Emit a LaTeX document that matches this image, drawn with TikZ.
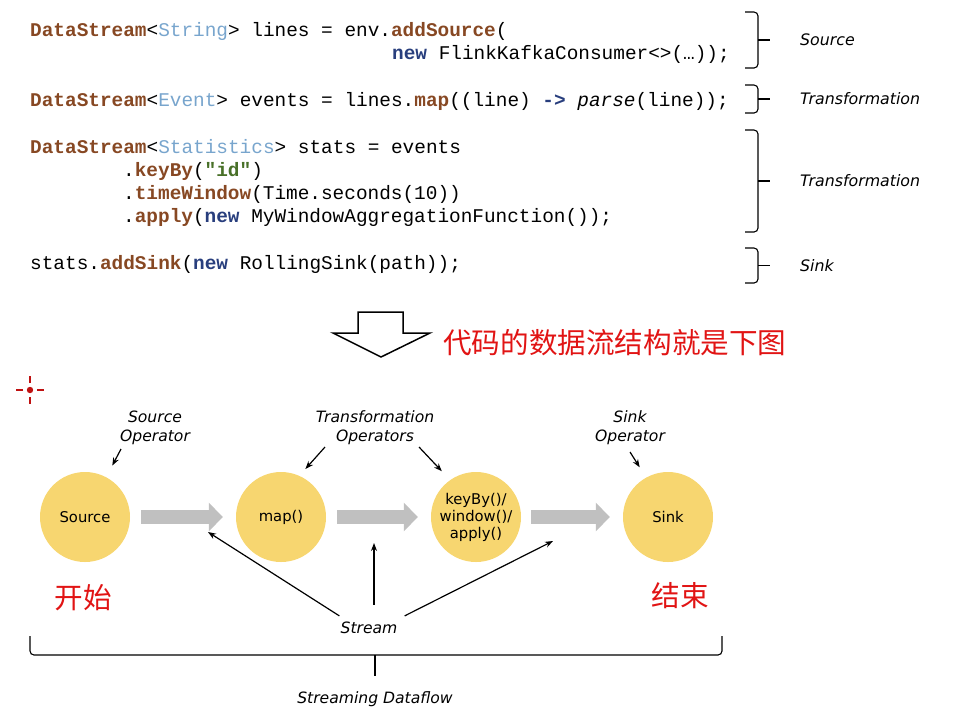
\documentclass[tikz,border=0pt]{standalone}
\usepackage{fontspec}
\setmainfont{DejaVu Sans}
\newfontfamily\codefont{Liberation Mono}
\newfontfamily\cjkfont{Noto Sans CJK SC}
\usetikzlibrary{arrows.meta}

\definecolor{kwbrown}{RGB}{135,72,35}
\definecolor{typeblue}{RGB}{120,165,205}
\definecolor{newblue}{RGB}{40,62,125}
\definecolor{strgreen}{RGB}{72,112,40}
\definecolor{opyellow}{RGB}{247,214,112}
\definecolor{flowgray}{RGB}{192,192,192}
\definecolor{cnred}{RGB}{225,20,20}

\newcommand{\kw}[1]{\textbf{\textcolor{kwbrown}{#1}}}
\newcommand{\ty}[1]{\textcolor{typeblue}{#1}}
\newcommand{\nw}[1]{\textbf{\textcolor{newblue}{#1}}}

\tikzset{
  code/.style={font=\codefont\fontsize{19.4}{23}\selectfont, anchor=base west, inner sep=0pt},
  part/.style={font=\itshape\fontsize{15.8}{19}\selectfont, anchor=west, inner sep=0pt},
  op/.style={circle, fill=opyellow, minimum size=90pt, inner sep=0pt, align=center,
    font=\fontsize{14.8}{17}\selectfont},
  note/.style={font=\itshape\fontsize{15.6}{19}\selectfont, align=center, inner sep=0pt},
  flow/.style={line width=14pt, flowgray, -{Triangle[length=14pt,width=28pt]}},
  pointer/.style={line width=1.2pt, -{Stealth[length=8pt,width=6pt]}},
  bracket/.style={line width=1.1pt, rounded corners=4pt},
  cn/.style={font=\cjkfont\fontsize{28.6}{32}\selectfont, text=cnred, inner sep=0pt}
}

\begin{document}
\begin{tikzpicture}[x=1pt,y=-1pt]

\useasboundingbox (0,0) rectangle (976,716);

% Code lines
\node[code] (l1) at (30,36.5) {\kw{DataStream}<\ty{String}> lines = env.\kw{addSource}(};
\node[code] (l2) at (392,59.5) {\nw{new} FlinkKafkaConsumer<>(…));};
\node[code] (l3) at (30,106.5) {\kw{DataStream}<\ty{Event}> events = lines.\kw{map}((line) \nw{->} \textit{parse}(line));};
\node[code] (l4) at (30,153.5) {\kw{DataStream}<\ty{Statistics}> stats = events};
\node[code] (l5) at (123,176.5) {.\kw{keyBy}(\textbf{\textcolor{strgreen}{"id"}})};
\node[code] (l6) at (123,199.5) {.\kw{timeWindow}(Time.seconds(10))};
\node[code] (l7) at (123,222.5) {.\kw{apply}(\nw{new} MyWindowAggregationFunction());};
\node[code] (l8) at (30,269.5) {stats.\kw{addSink}(\nw{new} RollingSink(path));};

% Brackets on the right
\foreach \top/\bot/\name in {12/68/Source, 85/113/Transformation, 130/232/Transformation, 248/283/Sink}
{
    \draw[bracket] (745,\top) -- (758,\top) -- (758,\bot) -- (745,\bot);
    \draw[line width=1.1pt] (758,{(\top+\bot)/2}) -- (770,{(\top+\bot)/2});
    \node[part] at (800,{(\top+\bot)/2}) {\name};
}

% Hollow down arrow
\draw[line width=1.5pt, line join=miter] (358,312) -- (403,312) -- (403,333) -- (430,333)
    -- (381,357) -- (333,333) -- (358,333) -- cycle;
\node[cn, anchor=west] (title) at (443,343) {代码的数据流结构就是下图};

% Cursor mark
\fill[cnred!85!black] (30,390) circle (3.2pt);
\foreach \a in {0,90,180,270}
{
    \draw[cnred!85!black, line width=2.2pt] (30,390) ++(\a:7pt) -- ++(\a:7pt);
}

% Operators
\node[op] (src) at (85,517) {Source};
\node[op] (map) at (281,517) {map()};
\node[op] (kb) at (476,517) {keyBy()/\\window()/\\apply()};
\node[op] (sink) at (668,517) {Sink};

% Streams between operators
\draw[flow, shorten <=11pt, shorten >=13pt] (src) -- (map);
\draw[flow, shorten <=11pt, shorten >=13pt] (map) -- (kb);
\draw[flow, shorten <=10pt, shorten >=13pt] (kb) -- (sink);

% Operator labels
\node[note] (srclbl) at (155,428) {Source\\Operator};
\node[note] (trlbl) at (375,428) {Transformation\\Operators};
\node[note] (sinklbl) at (630,428) {Sink\\Operator};

\coordinate (srcptr) at (121,449);
\coordinate (trptr1) at (325,447);
\coordinate (trptr2) at (419,447);
\coordinate (sinkptr) at (630,452);
\draw[pointer, shorten >=13pt] (srcptr) -- (src.62);
\draw[pointer, shorten >=9pt] (trptr1) -- (map.66);
\draw[pointer, shorten >=12pt] (trptr2) -- (kb.125);
\draw[pointer, shorten >=12pt] (sinkptr) -- (sink.119);

% Stream label
\node[note] (strm) at (369,628) {Stream};
\coordinate (st1) at (208,532);
\coordinate (st2) at (374,543);
\coordinate (st3) at (553,541);
\draw[pointer] ([shift={(-1,-6)}]strm.north west) -- (st1);
\draw[pointer] ([shift={(5,-17)}]strm.north) -- (st2);
\draw[pointer] ([shift={(7,-6)}]strm.north east) -- (st3);

% Start and end
\node[cn] (start) at (83,598) {开始};
\node[cn] (finish) at (680,596) {结束};

% Dataflow bracket
\draw[bracket] (30,636) -- (30,655) -- (722,655) -- (722,636);
\draw[line width=1.1pt] (375,655) -- (375,676);
\node[note] (df) at (375,699) {Streaming Dataflow};

\end{tikzpicture}
\end{document}
